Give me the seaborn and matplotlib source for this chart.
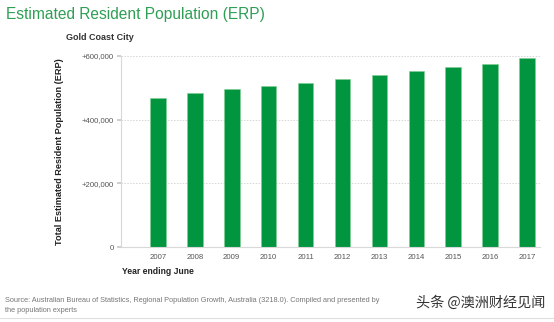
import matplotlib
matplotlib.use("Agg")
import matplotlib.pyplot as plt
import seaborn as sns
import pandas as pd
from matplotlib.ticker import FuncFormatter

years = ["2007", "2008", "2009", "2010", "2011", "2012", "2013", "2014", "2015", "2016", "2017"]
erp = [467000, 483000, 496000, 507000, 516000, 529000, 541000, 552000, 565000, 576000, 593000]
y_ticks = [0, 200000, 400000, 600000]

df = pd.DataFrame({"Year": years, "ERP": erp})

sns.set_theme(style="white")
plt.rcParams["font.family"] = ["Liberation Sans", "DejaVu Sans"]

fig = plt.figure(figsize=(5.54, 3.22), dpi=100)
ax = fig.add_axes([121/554, 1 - 247/322, (540 - 121)/554, (247 - 56)/322])

sns.barplot(data=df, x="Year", y="ERP", color="#019540", width=0.42,
            saturation=1, ax=ax, edgecolor="#7fcf8f", linewidth=0.4)

ax.set_ylim(0, 600000)
ax.set_xlim(-1.0, 10.35)
ax.set_yticks(y_ticks)
ax.yaxis.set_major_formatter(FuncFormatter(lambda v, p: "0" if v == 0 else f"+{int(v):,}"))
ax.grid(axis="y", color="#d6d6d6", linestyle=(0, (1.5, 1.5)), linewidth=0.7)
ax.set_axisbelow(True)
for s in ["top", "right"]:
    ax.spines[s].set_visible(False)
ax.spines["left"].set_color("#d8d8d8")
ax.spines["bottom"].set_color("#d8d8d8")
ax.spines["left"].set_linewidth(0.8)
ax.spines["bottom"].set_linewidth(0.8)
ax.tick_params(axis="y", length=3, color="#c8c8c8", labelsize=5.6, labelcolor="#555555", pad=2, left=True)
ax.tick_params(axis="x", length=0, labelsize=5.6, labelcolor="#555555", pad=5)

ax.set_xlabel("")
ax.set_ylabel("Total Estimated Resident Population (ERP)", fontsize=6.6, fontweight="bold",
              color="#222222", labelpad=13)

fig.text(6/554, 1 - 14/322, "Estimated Resident Population (ERP)", fontsize=11.2,
         color="#2f9e55", va="center", ha="left")
fig.text(66/554, 1 - 38/322, "Gold Coast City", fontsize=6.5, color="#333333",
         fontweight="bold", va="center", ha="left")
fig.text(122/554, 1 - 272/322, "Year ending June", fontsize=6.2, color="#222222",
         fontweight="bold", va="center", ha="left")
fig.text(5/554, 1 - 300/322, "Source: Australian Bureau of Statistics, Regional Population Growth, Australia (3218.0). Compiled and presented by",
         fontsize=5.3, color="#777777", va="center", ha="left")
fig.text(5/554, 1 - 310/322, "the population experts", fontsize=5.3, color="#777777",
         va="center", ha="left")
fig.text(416/554, 1 - 303/322, "头条 @澳洲财经见闻", fontsize=10.2, color="#333333",
         va="center", ha="left", family=["Noto Sans CJK SC", "DejaVu Sans"],
         bbox=dict(facecolor="white", edgecolor="none", pad=1))
fig.add_artist(plt.Line2D([0, 1], [1 - 318/322, 1 - 318/322], color="#e0e0e0", linewidth=0.8,
                          transform=fig.transFigure))

fig.savefig("out.png", dpi=100)
